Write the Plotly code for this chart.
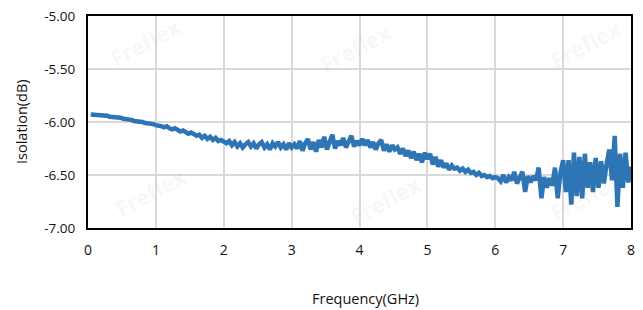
import numpy as np
import plotly.graph_objects as go

# Frequency grid (GHz), 0.04 GHz step
freq = np.round(np.arange(1, 201) * 0.04, 2)

iso_0_1 = [-5.93, -5.93, -5.93, -5.93, -5.94, -5.94, -5.94, -5.95, -5.95, -5.95,
           -5.96, -5.96, -5.97, -5.97, -5.98, -5.98, -5.99, -5.99, -6.00, -6.00,
           -6.01, -6.01, -6.02, -6.02, -6.03]
iso_1_2 = [-6.03, -6.04, -6.05, -6.04, -6.06, -6.07, -6.06, -6.08, -6.09, -6.08,
           -6.10, -6.11, -6.10, -6.12, -6.13, -6.12, -6.15, -6.13, -6.16, -6.14,
           -6.17, -6.15, -6.18, -6.17, -6.19]
iso_2_3 = [-6.20, -6.18, -6.22, -6.19, -6.23, -6.20, -6.24, -6.21, -6.19, -6.23,
           -6.20, -6.25, -6.21, -6.19, -6.24, -6.21, -6.26, -6.20, -6.23, -6.19,
           -6.24, -6.21, -6.26, -6.20, -6.24]
iso_3_4 = [-6.21, -6.25, -6.18, -6.27, -6.20, -6.16, -6.26, -6.19, -6.28, -6.17,
           -6.24, -6.14, -6.26, -6.19, -6.12, -6.25, -6.18, -6.22, -6.15, -6.24,
           -6.17, -6.13, -6.23, -6.18, -6.22]
iso_4_5 = [-6.16, -6.22, -6.17, -6.24, -6.19, -6.26, -6.20, -6.17, -6.27, -6.21,
           -6.28, -6.22, -6.26, -6.24, -6.30, -6.25, -6.32, -6.27, -6.34, -6.28,
           -6.36, -6.30, -6.38, -6.29, -6.35]
iso_5_6 = [-6.30, -6.40, -6.33, -6.42, -6.36, -6.43, -6.39, -6.45, -6.41, -6.44,
           -6.43, -6.46, -6.44, -6.47, -6.45, -6.48, -6.47, -6.50, -6.48, -6.51,
           -6.50, -6.52, -6.51, -6.53, -6.52]
iso_6_7 = [-6.53, -6.56, -6.50, -6.57, -6.52, -6.55, -6.47, -6.58, -6.52, -6.47,
           -6.66, -6.51, -6.57, -6.51, -6.55, -6.43, -6.72, -6.52, -6.62, -6.53,
           -6.60, -6.43, -6.72, -6.48, -6.36]
iso_7_8 = [-6.66, -6.36, -6.78, -6.29, -6.70, -6.33, -6.72, -6.30, -6.62, -6.38,
           -6.66, -6.34, -6.62, -6.37, -6.58, -6.40, -6.26, -6.55, -6.13, -6.80,
           -6.30, -6.62, -6.29, -6.57, -6.42]

isolation = iso_0_1 + iso_1_2 + iso_2_3 + iso_3_4 + iso_4_5 + iso_5_6 + iso_6_7 + iso_7_8

x_ticks = [0, 1, 2, 3, 4, 5, 6, 7, 8]
y_ticks = [-7.0, -6.5, -6.0, -5.5, -5.0]
y_tick_text = ["-7.00", "-6.50", "-6.00", "-5.50", "-5.00"]

FONT = "Open Sans"
OFF = 8  # page body margin offset
W, H = 643 - OFF, 310 - OFF
# plot area in page pixels
L, R, T, B = 88, 631, 16, 228

fig = go.Figure()
fig.add_trace(go.Scatter(x=freq, y=isolation, mode="lines",
                         line=dict(color="#2e75b6", width=4.5), showlegend=False))

def px2paper(px, py):
    return (px - L) / (R - L), (B - py) / (B - T)

ann = []
# Watermarks
wm = [(145, 42), (355, 48), (585, 44), (150, 192), (385, 200), (585, 196)]
for px, py in wm:
    xp, yp = px2paper(px, py)
    ann.append(dict(text="<b>Freflex</b>", x=xp, y=yp, xref="paper", yref="paper",
                    xanchor="center", yanchor="middle",
                    showarrow=False, textangle=-28,
                    font=dict(family=FONT, size=22, color="rgba(0,0,0,0.05)")))

# Axis titles
xp, yp = px2paper(365, 298)
ann.append(dict(text="Frequency(GHz)", x=xp, y=yp, xref="paper", yref="paper",
                xanchor="center", yanchor="middle",
                showarrow=False, font=dict(family=FONT, size=14.5, color="#111111")))
xp, yp = px2paper(21, 122)
ann.append(dict(text="Isolation(dB)", x=xp, y=yp, xref="paper", yref="paper",
                xanchor="center", yanchor="middle",
                showarrow=False, textangle=-90,
                font=dict(family=FONT, size=14.5, color="#111111")))

fig.update_layout(
    width=W, height=H,
    margin=dict(l=L - OFF, r=(W + OFF) - R, t=T - OFF, b=(H + OFF) - B, autoexpand=False),
    paper_bgcolor="white", plot_bgcolor="white",
    font=dict(family=FONT, size=14, color="#111111"),
    annotations=ann,
    xaxis=dict(range=[0, 8], tickvals=x_ticks, showgrid=True, gridcolor="#d9d9d9",
               gridwidth=2, showline=True, linecolor="black", linewidth=2, mirror=True,
               zeroline=False, ticks="outside", ticklen=8, tickcolor="rgba(0,0,0,0)",
               automargin=False, ticklabeloverflow="allow", tickfont=dict(size=14)),
    yaxis=dict(range=[-7, -5], tickvals=y_ticks, ticktext=y_tick_text, showgrid=True,
               gridcolor="#d9d9d9", gridwidth=2, showline=True, linecolor="black",
               linewidth=2, mirror=True, zeroline=False, ticks="outside", ticklen=8,
               tickcolor="rgba(0,0,0,0)", automargin=False, ticklabeloverflow="allow",
               tickfont=dict(size=13.5)),
)

fig.write_html("out.html")
